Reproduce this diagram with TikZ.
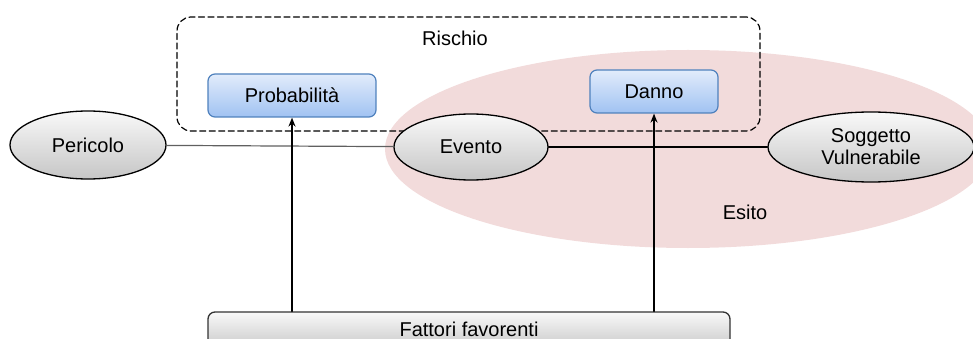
\documentclass[tikz,border=0pt]{standalone}
\usepackage{fontspec}
\setmainfont{Liberation Sans}
\usepackage{xcolor}
\usepackage{tikz}
\usetikzlibrary{arrows.meta,calc,shapes.geometric}
\definecolor{esitorosa}{RGB}{242,219,219}
\definecolor{bordoblu}{RGB}{79,129,189}
\definecolor{bluechiaro}{RGB}{226,236,251}
\definecolor{bluescuro}{RGB}{160,194,242}
\tikzset{
  >={Stealth[length=9pt,width=7pt]},
  every picture/.style={line cap=round,line join=round},
  oval/.style={ellipse, draw=black, line width=1.3pt, top color=gray!5, bottom color=gray!45,
    inner sep=0pt, align=center, font=\fontsize{20}{22}\selectfont},
  bluebox/.style={rectangle, rounded corners=7pt, draw=bordoblu, line width=1.2pt,
    top color=bluechiaro, bottom color=bluescuro, font=\fontsize{20}{22}\selectfont},
  factorbox/.style={rectangle, rounded corners=7pt, draw=black!80, line width=1.3pt,
    top color=gray!5, bottom color=gray!40, font=\fontsize{20}{22}\selectfont},
}

\begin{document}
\begin{tikzpicture}[x=1pt,y=-1pt]
    \useasboundingbox (0,0) rectangle (973,339);
    % area dell'esito
    \node[ellipse, fill=esitorosa, minimum width=606, minimum height=198] (esito) at (688,149) {};
    \node[font=\fontsize{20}{22}\selectfont] (esitolbl) at (745,212) {Esito};
    % riquadro del rischio
    \node[draw, dash pattern=on 6pt off 3.5pt, line width=1.2pt, rounded corners=14pt, minimum width=583, minimum height=114] (rischio) at (468.5,74) {};
    \node[font=\fontsize{20}{22}\selectfont] (rischiolbl) at (455,38) {Rischio};
    % componenti
    \node[bluebox, minimum width=168, minimum height=43] (prob) at (292,95.5) {Probabilità};
    \node[bluebox, minimum width=128, minimum height=43] (danno) at (654,91.5) {Danno};
    % catena
    \node[oval, minimum width=156, minimum height=68] (pericolo) at (88,145) {Pericolo};
    \node[oval, minimum width=154, minimum height=66] (evento) at (471,147) {Evento};
    \node[oval, minimum width=206, minimum height=70] (soggetto) at (871,147) {Soggetto\\Vulnerabile};
    \draw[line width=1.2pt, gray!75!black] (pericolo) -- (evento);
    \draw[line width=1.5pt] (evento) -- (soggetto);
    % fattori
    \node[factorbox, minimum width=522, minimum height=34] (fattori) at (469,329) {Fattori favorenti};
    \draw[->, line width=1.5pt] (fattori.north -| prob.south) -- (prob.south);
    \draw[->, line width=1.5pt] (fattori.north -| danno.south) -- (danno.south);
  \end{tikzpicture}
\end{document}
